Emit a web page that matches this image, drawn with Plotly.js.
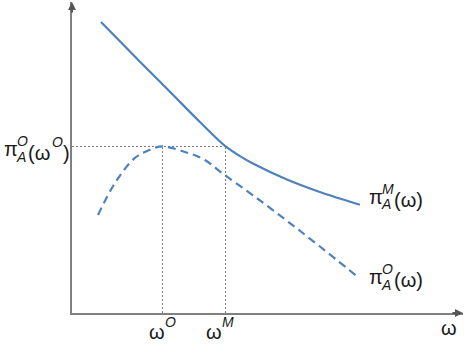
<!DOCTYPE html>
<html>
<head>
<meta charset="utf-8">
<script src="https://cdn.plot.ly/plotly-3.0.1.min.js"></script>
<style>html,body{margin:0;padding:0;background:#fff;}#chart{width:470px;height:347px;}</style>
</head>
<body>
<div id="chart"></div>
<script>
// Monopoly profit curve pi_A^M(w)
const wMono = [0.744, 1.744, 2.513, 3.282, 3.94, 4.308, 4.641, 5.513, 6.359, 7.385];
const piMono = [9.387, 8.103, 7.135, 6.160, 5.371, 5.060, 4.820, 4.306, 3.903, 3.490];
// Oligopoly profit curve pi_A^O(w)
const wOlig = [0.667, 1.103, 1.615, 2.051, 2.32, 2.897, 3.410, 3.846, 4.641, 5.513, 6.359, 7.333];
const piOlig = [3.161, 4.194, 5.000, 5.290, 5.371, 5.194, 4.935, 4.516, 3.797, 2.974, 2.145, 1.161];
// Reference values
const wO = 2.32, wM = 3.94, piPeak = 5.371;

const L = 72, T = 2, W = 391, H = 311;
const px = x => (x - L) / W;
const py = y => (T + H - y) / H;
const txtColor = '#1a1a1a';
const fam = 'Liberation Sans, Arial, sans-serif';

function piece(text, x, y, size, anchor, style) {
  return {text: text, xref: 'paper', yref: 'paper', x: px(x), y: py(y),
    xanchor: anchor || 'left', yanchor: 'middle', showarrow: false,
    font: {family: fam, size: size, color: txtColor, style: style || 'normal'}};
}

const blue = '#4f81bd';
const dotLine = {color: '#777', width: 1, dash: '2px,2px'};
const traces = [
  {x: [0, wM], y: [piPeak, piPeak], mode: 'lines', line: dotLine, hoverinfo: 'skip'},
  {x: [wO, wO], y: [0, piPeak], mode: 'lines', line: dotLine, hoverinfo: 'skip'},
  {x: [wM, wM], y: [0, piPeak], mode: 'lines', line: dotLine, hoverinfo: 'skip'},
  {x: wMono, y: piMono, mode: 'lines', line: {color: blue, width: 2.2, shape: 'spline'}},
  {x: wOlig, y: piOlig, mode: 'lines', line: {color: blue, width: 2.2, dash: '8px,5px', shape: 'spline'}}
];

const annotations = [
  // axis arrows
  {xref: 'paper', yref: 'paper', x: 0, y: 1, ax: 0, ay: 12, text: '', showarrow: true, arrowhead: 2, arrowsize: 0.8, arrowwidth: 2, arrowcolor: '#555'},
  {xref: 'paper', yref: 'paper', x: 1, y: 0, ax: -12, ay: 0, text: '', showarrow: true, arrowhead: 2, arrowsize: 0.8, arrowwidth: 2, arrowcolor: '#555'},
  // right label pi_A^M(w)
  piece('π', 367, 197, 20), piece('A', 379, 204, 14, 'left', 'italic'), piece('M', 380, 189, 14, 'left', 'italic'), piece('(ω)', 392, 200, 20),
  // right label pi_A^O(w)
  piece('π', 367, 277, 20), piece('A', 379, 285, 14, 'left', 'italic'), piece('O', 380, 269, 14, 'left', 'italic'), piece('(ω)', 392, 280, 20),
  // left label pi_A^O(w^O)
  piece('π', 2, 149, 20), piece('A', 14, 157, 14, 'left', 'italic'), piece('O', 15, 141, 14, 'left', 'italic'), piece('(ω', 26, 152.5, 20), piece('O', 50, 142, 14, 'left', 'italic'), piece(')', 61, 152.5, 20),
  // x labels
  piece('ω', 157, 332, 20, 'center'), piece('O', 163, 322, 14, 'left', 'italic'),
  piece('ω', 213.5, 332, 20, 'center'), piece('M', 220, 322, 14, 'left', 'italic'),
  piece('ω', 449, 328, 20, 'center')
];

const layout = {
  width: 470, height: 347,
  margin: {l: L, r: 470 - L - W, t: T, b: 347 - T - H},
  paper_bgcolor: '#ffffff', plot_bgcolor: '#ffffff',
  showlegend: false,
  xaxis: {range: [0, 10.03], showline: true, linecolor: '#808080', linewidth: 2, showgrid: false, zeroline: false, showticklabels: false, ticks: ''},
  yaxis: {range: [0, 10.03], showline: true, linecolor: '#808080', linewidth: 2, showgrid: false, zeroline: false, showticklabels: false, ticks: ''},
  annotations: annotations
};

Plotly.newPlot('chart', traces, layout, {staticPlot: true, displayModeBar: false});
</script>
</body>
</html>
